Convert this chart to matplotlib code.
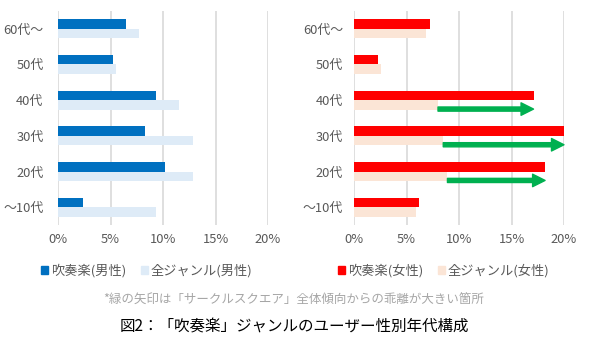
import numpy as np
import matplotlib
matplotlib.use("Agg")
import matplotlib.pyplot as plt
from matplotlib.patches import Patch

plt.rcParams['font.family'] = ['Noto Sans CJK JP', 'DejaVu Sans']

# data (share of users by age group, %)
ages = ['60代～', '50代', '40代', '30代', '20代', '～10代']
male_brass = [6.5, 5.2, 9.3, 8.3, 10.2, 2.4]
male_all = [7.7, 5.5, 11.5, 12.9, 12.9, 9.3]
female_brass = [7.2, 2.3, 17.1, 20.0, 18.2, 6.2]
female_all = [6.9, 2.6, 8.0, 8.5, 8.9, 5.9]
arrow_ages = ['40代', '30代', '20代']
ticks = [0, 5, 10, 15, 20]

GRAY = '#595959'
GRID = '#d9d9d9'


def draw_panel(ax, brass, allg, c_brass, c_all, pad):
    y = np.arange(len(ages))
    h = 0.265
    ax.barh(y - h / 2, brass, height=h, color=c_brass, zorder=3)
    ax.barh(y + h / 2, allg, height=h, color=c_all, zorder=3)
    ax.set_ylim(len(ages) - 0.5, -0.5)
    ax.set_xlim(0, 20)
    ax.set_xticks(ticks)
    ax.set_xticklabels([f'{t}%' for t in ticks])
    ax.set_yticks(y)
    ax.set_yticklabels(ages)
    ax.xaxis.grid(True, color=GRID, linewidth=1.2, zorder=0)
    for s in ax.spines.values():
        s.set_visible(False)
    ax.tick_params(axis='both', length=0, colors=GRAY, labelsize=9.3)
    ax.tick_params(axis='y', pad=pad)
    ax.tick_params(axis='x', pad=6)


fig = plt.figure(figsize=(6, 3.42), dpi=100)
ax1 = fig.add_axes([0.0967, 0.342, 0.35, 0.626])
ax2 = fig.add_axes([0.59, 0.342, 0.35, 0.626])

draw_panel(ax1, male_brass, male_all, '#0070c0', '#deebf7', 10.5)
draw_panel(ax2, female_brass, female_all, '#ff0000', '#fbe5d6', 8)

# green arrows: from all-genre bar end to brass bar end
for a in arrow_ages:
    i = ages.index(a)
    ax2.annotate('', xy=(female_brass[i], i + 0.25), xytext=(female_all[i], i + 0.25),
                 arrowprops=dict(arrowstyle='simple,head_length=0.9,head_width=0.9,tail_width=0.3',
                                 mutation_scale=10, color='#00b050', shrinkA=0, shrinkB=0),
                 zorder=5)

leg_kw = dict(loc='center', ncol=2, frameon=False, fontsize=9.5, handlelength=0.5,
              handleheight=0.5, handletextpad=0.25, columnspacing=1.1, labelcolor=GRAY)
fig.legend(handles=[Patch(color='#0070c0', label='吹奏楽(男性)'),
                    Patch(color='#deebf7', label='全ジャンル(男性)')],
           bbox_to_anchor=(0.245, 0.208), **leg_kw)
fig.legend(handles=[Patch(color='#ff0000', label='吹奏楽(女性)'),
                    Patch(color='#fbe5d6', label='全ジャンル(女性)')],
           bbox_to_anchor=(0.74, 0.208), **leg_kw)

fig.text(0.49, 1 - 300 / 342, '*緑の矢印は「サークルスクエア」全体傾向からの乖離が大きい箇所',
         ha='center', va='center', fontsize=9, color='#a6a6a6')
fig.text(0.49, 1 - 327 / 342, '図2：「吹奏楽」ジャンルのユーザー性別年代構成',
         ha='center', va='center', fontsize=11.2, color='black')

fig.savefig('out.png', dpi=100)
